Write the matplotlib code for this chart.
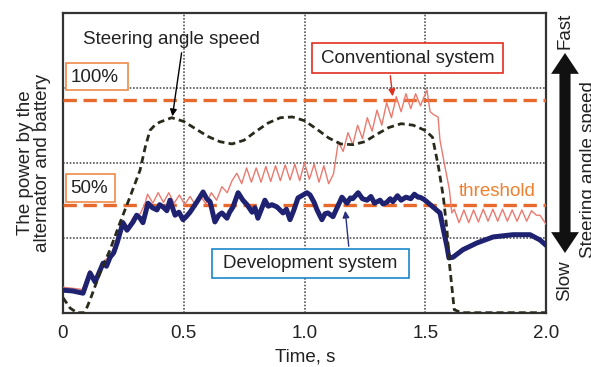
import matplotlib
matplotlib.use("Agg")
import matplotlib.pyplot as plt
from matplotlib.patches import FancyArrowPatch, Rectangle

plt.rcParams['font.family'] = ['Liberation Sans', 'DejaVu Sans']

# ---- data (time in s, power in grid units 0..4) ----
steer_t = [0, 0.03, 0.058, 0.09, 0.112, 0.153, 0.195, 0.236, 0.277, 0.319, 0.34, 0.36,
           0.38, 0.40, 0.45, 0.50, 0.55, 0.60, 0.65, 0.70, 0.75, 0.80, 0.85, 0.90, 0.95,
           1.00, 1.05, 1.10, 1.15, 1.20, 1.25, 1.30, 1.35, 1.40, 1.45, 1.50, 1.53, 1.555,
           1.575, 1.59, 1.60, 1.62, 1.65, 2.0]
steer_v = [0.2, 0.06, 0.0, 0.0, 0.17, 0.53, 0.84, 1.2, 1.54, 1.9, 2.2, 2.43,
           2.5, 2.54, 2.6, 2.55, 2.45, 2.35, 2.28, 2.25, 2.3, 2.42, 2.53, 2.6, 2.61,
           2.56, 2.45, 2.33, 2.25, 2.24, 2.28, 2.38, 2.47, 2.52, 2.5, 2.43, 2.34, 1.94,
           1.54, 1.10, 0.66, 0.04, 0.0, 0.0]

conv_t = [0, 0.08, 0.11, 0.13, 0.17, 0.2, 0.22, 0.25, 0.27, 0.29, 0.32, 0.34,
          0.35, 0.372, 0.394, 0.416, 0.438, 0.46, 0.482, 0.504, 0.526, 0.548, 0.57, 0.592,
          0.614, 0.636, 0.658, 0.68, 0.70, 0.72, 0.74, 0.76, 0.78, 0.80, 0.82, 0.84, 0.86,
          0.88, 0.90, 0.92, 0.94, 0.96, 0.98, 1.00, 1.02, 1.04, 1.06, 1.08, 1.10, 1.12,
          1.14, 1.16, 1.18, 1.20, 1.22, 1.24, 1.26, 1.28, 1.30, 1.32, 1.34, 1.36, 1.38,
          1.40, 1.42, 1.44, 1.46, 1.48, 1.507, 1.52, 1.535, 1.553, 1.561, 1.582, 1.60, 1.61,
          1.62, 1.64, 1.66, 1.68, 1.70, 1.72, 1.74, 1.76, 1.78, 1.80, 1.82, 1.84, 1.86,
          1.88, 1.90, 1.92, 1.94, 1.96, 1.975, 2.0]
conv_v = [0.34, 0.31, 0.56, 0.45, 0.69, 0.77, 0.96, 1.23, 1.14, 1.27, 1.32, 1.46,
          1.58, 1.46, 1.6, 1.47, 1.6, 1.46, 1.57, 1.44, 1.55, 1.44, 1.55, 1.45,
          1.6, 1.5, 1.68, 1.6, 1.76, 1.86, 1.72, 1.93, 1.74, 1.93, 1.74, 1.95, 1.75,
          1.96, 1.76, 1.97, 1.77, 1.98, 1.76, 2.0, 1.78, 1.98, 1.74, 1.96, 1.72, 1.85,
          2.28, 2.15, 2.4, 2.24, 2.5, 2.32, 2.6, 2.42, 2.7, 2.5, 2.8, 2.6, 2.88,
          2.68, 2.92, 2.72, 2.92, 2.76, 2.97, 2.68, 2.64, 2.61, 2.30, 1.94, 1.64, 1.33,
          1.38, 1.2, 1.37, 1.2, 1.37, 1.21, 1.38, 1.22, 1.38, 1.22, 1.38, 1.22, 1.37,
          1.22, 1.37, 1.22, 1.36, 1.3, 1.3, 1.18]

dev_t = [0, 0.04, 0.083, 0.112, 0.133, 0.166, 0.18, 0.195, 0.21, 0.224, 0.248, 0.265, 0.29,
         0.305, 0.319, 0.331, 0.352, 0.37, 0.389, 0.40, 0.414, 0.43, 0.443, 0.464, 0.48, 0.497,
         0.51, 0.526, 0.555, 0.58, 0.595, 0.609, 0.629, 0.645, 0.658, 0.679, 0.69, 0.704,
         0.725, 0.745, 0.762, 0.783, 0.795, 0.807, 0.836, 0.85, 0.865, 0.886, 0.911, 0.925,
         0.94, 0.955, 0.973, 1.01, 1.023, 1.04, 1.052, 1.072, 1.085, 1.097, 1.118, 1.135, 1.155,
         1.176, 1.19, 1.20, 1.222, 1.24, 1.259, 1.275, 1.29, 1.313, 1.325, 1.34, 1.355, 1.366,
         1.385, 1.40, 1.42, 1.44, 1.455, 1.47, 1.478, 1.495, 1.51, 1.532,
         1.561, 1.573, 1.59, 1.598, 1.615, 1.656, 1.714, 1.781, 1.863, 1.934, 1.975, 2.0]
dev_v = [0.30, 0.29, 0.26, 0.53, 0.41, 0.66, 0.62, 0.74, 0.80, 0.93, 1.20, 1.10, 1.21,
         1.30, 1.26, 1.20, 1.46, 1.40, 1.37, 1.44, 1.41, 1.36, 1.50, 1.30, 1.34, 1.24,
         1.28, 1.34, 1.48, 1.61, 1.52, 1.48, 1.21, 1.30, 1.33, 1.26, 1.34, 1.41,
         1.60, 1.50, 1.44, 1.34, 1.40, 1.26, 1.50, 1.42, 1.44, 1.41, 1.33, 1.38,
         1.24, 1.36, 1.53, 1.60, 1.57, 1.47, 1.37, 1.24, 1.32, 1.33, 1.28, 1.40, 1.54,
         1.46, 1.53, 1.52, 1.60, 1.52, 1.50, 1.55, 1.46, 1.50, 1.45, 1.47, 1.52, 1.48,
         1.56, 1.50, 1.54, 1.52, 1.58, 1.54, 1.54, 1.51, 1.47, 1.41,
         1.33, 1.14, 0.88, 0.73, 0.74, 0.84, 0.93, 1.01, 1.04, 1.04, 0.97, 0.90]

thresholds = [2.836, 1.436]
x_ticks = [0, 0.5, 1.0, 1.5, 2.0]
x_labels = ['0', '0.5', '1.0', '1.5', '2.0']

W, H = 591, 367
FS = 13.5
fig = plt.figure(figsize=(W / 100, H / 100), dpi=100)
L, R, T, B = 63, 546, 12.7, 312.7
ax = fig.add_axes([L / W, 1 - B / H, (R - L) / W, (B - T) / H])

def dx(px):
    return (px - L) / (R - L) * 2.0

def dy(py):
    return (B - py) / (B - T) * 4.0

ax.set_xlim(0, 2.0)
ax.set_ylim(0, 4)
ax.set_xticks(x_ticks)
ax.set_xticklabels(x_labels)
ax.set_yticks([1, 2, 3])
ax.set_yticklabels([])
ax.tick_params(length=0, labelsize=FS, pad=9, colors='#222222')
ax.grid(True, color='#555555', lw=1.2, linestyle=(0, (1, 1)))
for s in ax.spines.values():
    s.set_color('#333333')
    s.set_linewidth(1.6)

orange = '#e8692c'
for th in thresholds:
    ax.axhline(th, color=orange, lw=2.4, linestyle=(0, (4, 2)), zorder=3)

ax.plot(conv_t, conv_v, color='#ea7a70', lw=1.0, zorder=4)
ax.plot(dev_t, dev_v, color='#1e2270', lw=3.6, zorder=5, solid_joinstyle='round')
ax.plot(steer_t, steer_v, color='#2a2a1c', lw=2.0, linestyle=(0, (2.5, 1.5)), zorder=6)

txtc = '#222222'
def box(x0, y0, x1, y1, tx, ty, s, ec):
    ax.add_patch(Rectangle((dx(x0), dy(y1)), dx(x1) - dx(x0), dy(y0) - dy(y1),
                           fc='white', ec=ec, lw=1.2, zorder=7))
    ax.text(dx(tx), dy(ty), s, ha='center', va='center', fontsize=FS, color=txtc, zorder=8)

box(66, 63, 128, 90, 94.5, 77, '100%', '#ef8a4a')
box(66, 174, 115, 202, 89.5, 188.5, '50%', '#ef8a4a')
box(312, 43, 503, 73, 407.5, 58.5, 'Conventional system', '#e0301e')
box(212, 249, 409, 278, 310.5, 264, 'Development system', '#1a88c9')

ax.text(dx(171), dy(40), 'Steering angle speed', ha='center', va='center', fontsize=FS, color=txtc)
ax.annotate('', xy=(dx(172), dy(119)), xytext=(dx(182), dy(50)),
            arrowprops=dict(arrowstyle='-|>', color='black', lw=1.0, mutation_scale=10))
ax.annotate('', xy=(dx(393), dy(99)), xytext=(dx(390), dy(73)),
            arrowprops=dict(arrowstyle='-|>', color='#e0301e', lw=1.0, mutation_scale=10))
ax.annotate('', xy=(dx(345), dy(208)), xytext=(dx(349), dy(249)),
            arrowprops=dict(arrowstyle='-|>', color='#2a3080', lw=1.0, mutation_scale=10))
ax.text(dx(497), dy(192), 'threshold', ha='center', va='center', fontsize=FS, color='#f08030')

# labels
fig.text(305 / W, 1 - 357 / H, 'Time, s', ha='center', va='center', fontsize=FS, color=txtc)
fig.text(34 / W, 1 - 163 / H, 'The power by the\nalternator and battery', rotation=90,
         ha='center', va='center', fontsize=FS, color=txtc, multialignment='center',
         linespacing=1.05)

# right side speed arrow
fig.text(565 / W, 1 - 31 / H, 'Fast', rotation=90, ha='center', va='center', fontsize=FS, color=txtc)
fig.text(565 / W, 1 - 281 / H, 'Slow', rotation=90, ha='center', va='center', fontsize=FS, color=txtc)
fig.text(580 / W, 1 - 170 / H, 'Steering angle speed', rotation=90, ha='left', va='center',
         fontsize=FS, color=txtc)
mid = 1 - 153 / H
for tip in (53, 253):
    fig.patches.append(FancyArrowPatch((565 / W, mid), (565 / W, 1 - tip / H),
                                       transform=fig.transFigure,
                                       arrowstyle='simple,head_length=1.5,head_width=2.0,tail_width=0.8',
                                       mutation_scale=10, color='#111111', lw=0,
                                       shrinkA=0, shrinkB=0))

fig.savefig('out.png', dpi=100)
